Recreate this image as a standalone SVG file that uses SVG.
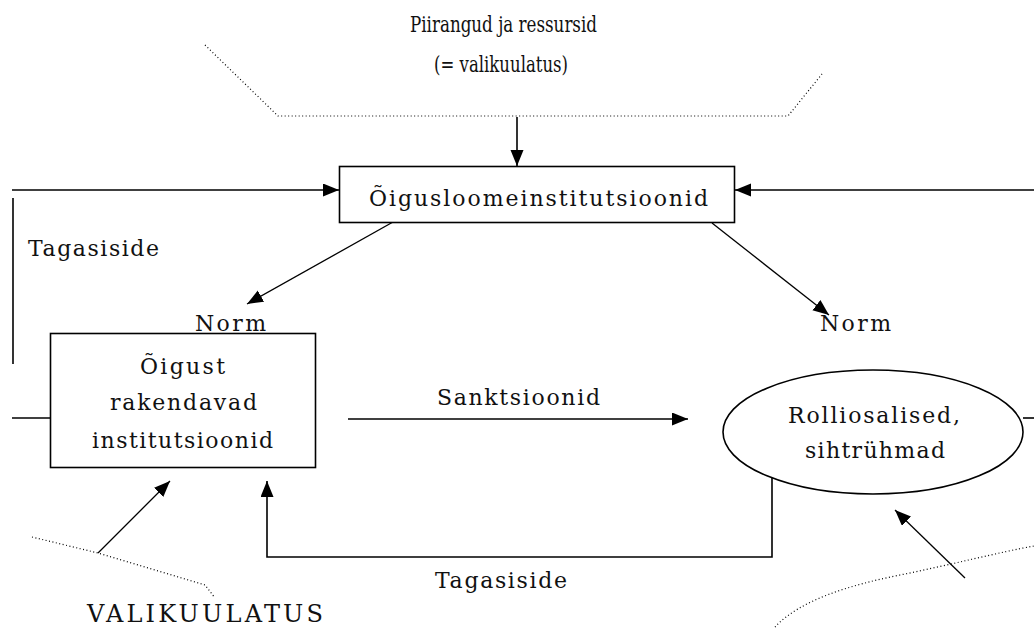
<svg xmlns="http://www.w3.org/2000/svg" width="1034" height="630" viewBox="0 0 1034 630">
<style>
.t{font-family:"DejaVu Serif","Liberation Serif",serif;font-size:22px;fill:#111}
.m{font-family:"DejaVu Serif","Liberation Serif",serif;font-size:24px;fill:#111}
.ln{stroke:#000;stroke-width:1.6;fill:none}
.dg{stroke:#000;stroke-width:1.3;fill:none}
.dot{stroke:#000;stroke-width:1.2;fill:none;stroke-dasharray:1 2.5}
.box{fill:#fff;stroke:#000;stroke-width:1.6}
</style>
<defs>
<marker id="ah" markerUnits="userSpaceOnUse" markerWidth="18" markerHeight="14" refX="16" refY="6.5" orient="auto">
<path d="M0,0 L16,6.5 L0,13 z" fill="#000"/>
</marker>
</defs>
<rect width="1034" height="630" fill="#fff"/>

<g id="constraints">
<polyline class="dot" points="205,45 278,116 788,116 822,74"/>
<text class="t" x="410" y="32" textLength="187" lengthAdjust="spacingAndGlyphs">Piirangud ja ressursid</text>
<text class="t" x="434" y="72" textLength="134" lengthAdjust="spacingAndGlyphs">(= valikuulatus)</text>
</g>

<g id="valikuulatus-left">
<polyline class="dot" points="32,537 98,553 205,585 215,598"/>
<text class="m" x="87" y="622" textLength="236" lengthAdjust="spacing">VALIKUULATUS</text>
</g>

<g id="valikuulatus-right">
<path class="dot" d="M775,627 C800,600 850,585 900,575 S1000,552 1034,546"/>
</g>

<g id="connectors">
<line class="ln" x1="517" y1="117" x2="517" y2="166" marker-end="url(#ah)"/>
<line class="ln" x1="12" y1="190" x2="339" y2="190" marker-end="url(#ah)"/>
<line class="ln" x1="1034" y1="190" x2="735" y2="190" marker-end="url(#ah)"/>
<line class="ln" x1="13" y1="198" x2="13" y2="364"/>
<line class="dg" x1="393" y1="222" x2="247" y2="304" marker-end="url(#ah)"/>
<line class="dg" x1="712" y1="223" x2="829" y2="315" marker-end="url(#ah)"/>
<line class="ln" x1="12" y1="418" x2="50" y2="418"/>
<line class="ln" x1="348" y1="419" x2="688" y2="419" marker-end="url(#ah)"/>
<line class="ln" x1="1023" y1="418" x2="1034" y2="418"/>
<polyline class="ln" points="772,478 772,557 267,557 267,481" marker-end="url(#ah)"/>
<line class="dg" x1="98" y1="553" x2="170" y2="481" marker-end="url(#ah)"/>
<line class="dg" x1="965" y1="578" x2="895" y2="510" marker-end="url(#ah)"/>
<text class="t" x="28" y="256" textLength="131" lengthAdjust="spacing">Tagasiside</text>
<text class="t" x="195" y="331" textLength="71" lengthAdjust="spacing">Norm</text>
<text class="t" x="820" y="331" textLength="71" lengthAdjust="spacing">Norm</text>
<text class="t" x="437" y="405" textLength="163" lengthAdjust="spacing">Sanktsioonid</text>
<text class="t" x="435" y="588" textLength="132" lengthAdjust="spacing">Tagasiside</text>
</g>

<g id="oigusloome">
<rect class="box" x="339.5" y="166.5" width="395" height="56"/>
<text class="t" x="369" y="206" textLength="339" lengthAdjust="spacing">Õigusloomeinstitutsioonid</text>
</g>

<g id="rakendavad">
<rect class="box" x="50.5" y="333.5" width="265" height="134"/>
<text class="t" x="140" y="374" textLength="85" lengthAdjust="spacing">Õigust</text>
<text class="t" x="110" y="410" textLength="147" lengthAdjust="spacing">rakendavad</text>
<text class="t" x="92" y="448" textLength="181" lengthAdjust="spacing">institutsioonid</text>
</g>

<g id="rolliosalised">
<ellipse class="box" cx="873" cy="432" rx="150" ry="62"/>
<text class="t" x="788" y="423" textLength="172" lengthAdjust="spacing">Rolliosalised,</text>
<text class="t" x="805" y="458" textLength="140" lengthAdjust="spacing">sihtrühmad</text>
</g>
</svg>
